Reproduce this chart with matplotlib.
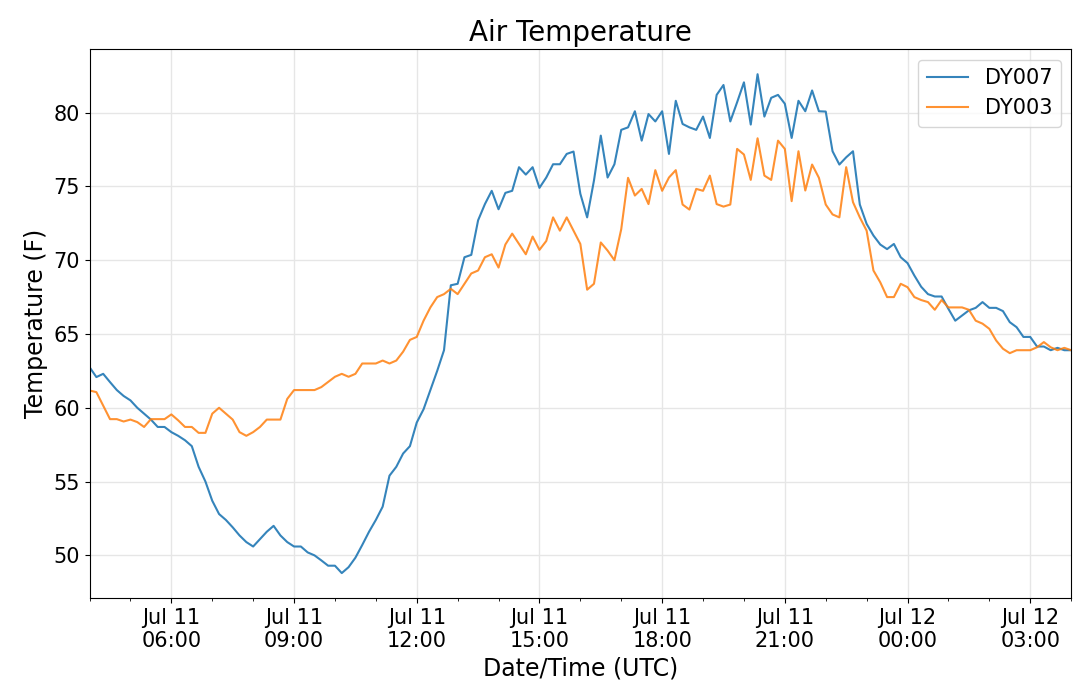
import numpy as np
import pandas as pd
import matplotlib
matplotlib.use("Agg")
import matplotlib.pyplot as plt
import matplotlib.dates as mdates

# 10 minute readings, Jul 11 04:00 -> Jul 12 04:00 (UTC)
times = pd.date_range("2019-07-11 04:00", "2019-07-12 04:00", freq="10min")

dy007 = [
    62.75, 62.08, 62.3, 61.74, 61.2, 60.8, 60.5, 60.0, 59.6, 59.2,
    58.7, 58.7, 58.35, 58.1, 57.8, 57.4, 56.0, 55.0, 53.7, 52.8,
    52.4, 51.9, 51.35, 50.9, 50.6, 51.1, 51.6, 52.0, 51.35, 50.9,
    50.6, 50.6, 50.2, 50.0, 49.66, 49.3, 49.3, 48.8, 49.2, 49.84,
    50.7, 51.6, 52.4, 53.3, 55.4, 56.0, 56.9, 57.4, 59.0, 59.9,
    61.2, 62.5, 63.9, 68.3, 68.4, 70.2, 70.36, 72.7, 73.8, 74.7,
    73.45, 74.56, 74.7, 76.3, 75.8, 76.3, 74.9, 75.6, 76.5, 76.5,
    77.2, 77.36, 74.5, 72.9, 75.4, 78.44, 75.6, 76.5, 78.83, 79.0,
    80.09, 78.1, 79.9, 79.4, 80.09, 77.2, 80.8, 79.23, 79.0, 78.83,
    79.73, 78.28, 81.2, 81.87, 79.4, 80.7, 82.05, 79.19, 82.6, 79.73,
    81.0, 81.2, 80.6, 78.28, 80.8, 80.09, 81.5, 80.09, 80.07, 77.38,
    76.48, 76.97, 77.38, 73.77, 72.46, 71.67, 71.06, 70.75, 71.1, 70.2,
    69.8, 68.96, 68.2, 67.7, 67.54, 67.54, 66.7, 65.9, 66.25, 66.6,
    66.77, 67.16, 66.77, 66.77, 66.55, 65.8, 65.46, 64.8, 64.8, 64.15,
    64.15, 63.9, 64.06, 63.9, 63.9,
]

dy003 = [
    61.17, 61.06, 60.15, 59.23, 59.23, 59.07, 59.2, 59.03, 58.7, 59.23,
    59.23, 59.23, 59.55, 59.15, 58.7, 58.7, 58.3, 58.3, 59.6, 60.0,
    59.6, 59.2, 58.35, 58.1, 58.35, 58.7, 59.2, 59.2, 59.2, 60.6,
    61.2, 61.2, 61.2, 61.2, 61.4, 61.75, 62.1, 62.3, 62.1, 62.3,
    63.0, 63.0, 63.0, 63.2, 63.0, 63.2, 63.8, 64.6, 64.8, 65.9,
    66.8, 67.5, 67.7, 68.06, 67.7, 68.4, 69.1, 69.3, 70.2, 70.4,
    69.5, 71.06, 71.8, 71.1, 70.4, 71.6, 70.7, 71.3, 72.9, 72.0,
    72.9, 72.0, 71.1, 68.0, 68.4, 71.2, 70.65, 70.0, 72.1, 75.58,
    74.38, 74.83, 73.8, 76.1, 74.7, 75.6, 76.1, 73.77, 73.43, 74.83,
    74.7, 75.73, 73.8, 73.63, 73.77, 77.54, 77.16, 75.44, 78.26, 75.73,
    75.44, 78.1, 77.54, 74.0, 77.38, 74.72, 76.48, 75.58, 73.77, 73.1,
    72.9, 76.3, 73.93, 72.9, 72.0, 69.3, 68.5, 67.5, 67.5, 68.4,
    68.17, 67.5, 67.3, 67.16, 66.64, 67.3, 66.8, 66.8, 66.8, 66.64,
    65.9, 65.7, 65.35, 64.56, 64.0, 63.7, 63.9, 63.9, 63.9, 64.1,
    64.45, 64.1, 63.9, 64.06, 63.9,
]

fig = plt.figure(figsize=(10.79, 6.94), dpi=100)
ax = fig.add_axes([0.083, 0.1383, 0.9097, 0.7907])

ax.plot(times, dy007, color="tab:blue", lw=1.5, alpha=0.9, label="DY007")
ax.plot(times, dy003, color="tab:orange", lw=1.5, alpha=0.85, label="DY003")

ax.set_xlim(times[0], times[-1])
ax.xaxis.set_major_locator(mdates.HourLocator(byhour=range(0, 24, 3)))
ax.xaxis.set_major_formatter(mdates.DateFormatter("%b %d\n%H:%M"))
ax.xaxis.set_minor_locator(mdates.HourLocator())

ax.grid(True, which="major", color="#e6e6e6", lw=1.0)
ax.tick_params(labelsize=15)

ax.set_title("Air Temperature", fontsize=20)
ax.set_xlabel("Date/Time (UTC)", fontsize=17)
ax.set_ylabel("Temperature (F)", fontsize=17)
ax.legend(loc="upper right", fontsize=15)

fig.savefig("out.png", dpi=100)
